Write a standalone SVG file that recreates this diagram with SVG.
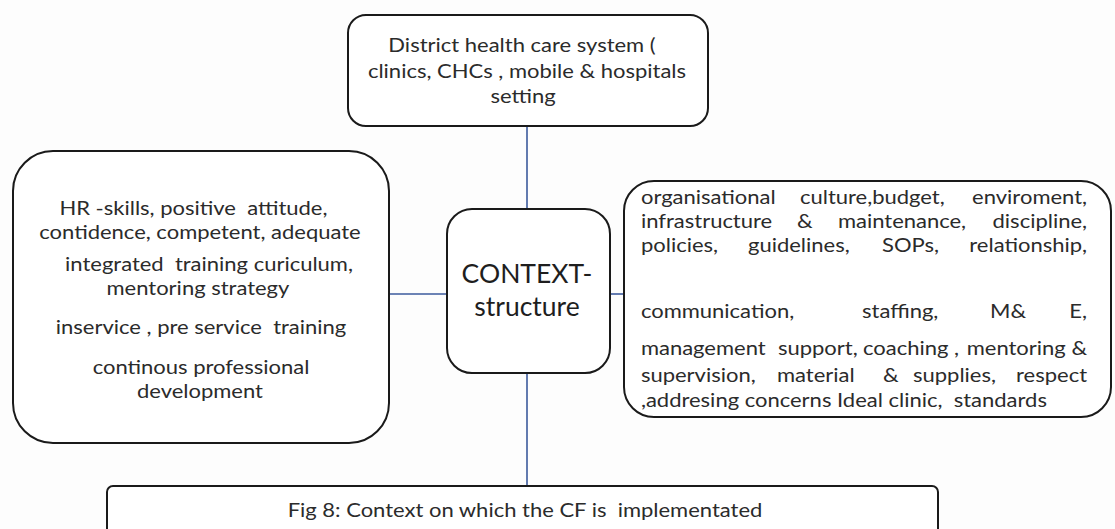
<svg xmlns="http://www.w3.org/2000/svg" width="1115" height="529" viewBox="0 0 1115 529">
<style>
.box{fill:#fff;stroke:#1a1a1a;stroke-width:2}
.t{font-family:Lato,"Open Sans","Liberation Sans",sans-serif;font-size:19.5px;fill:#2b2b2b}
.c{text-anchor:middle}
.big{font-family:Lato,"Open Sans","Liberation Sans",sans-serif;font-size:26.5px;fill:#1e1e1e;text-anchor:middle}
.conn{stroke:#3b5a9c;stroke-width:1.6;fill:none}
</style>
<rect width="1115" height="529" fill="#fdfdfd"/>
<g id="connectors">
<line class="conn" x1="527" y1="126" x2="527" y2="209"/>
<line class="conn" x1="389" y1="294" x2="447" y2="294"/>
<line class="conn" x1="610" y1="294" x2="624" y2="294"/>
<line class="conn" x1="527" y1="373" x2="527" y2="486"/>
</g>
<g id="node-district">
<rect class="box" x="348" y="15" width="360" height="111" rx="18"/>
<g transform="scale(1.128 1)">
<text class="t c" x="462.8" y="52">District health care system (</text>
<text class="t c" x="467.2" y="78">clinics, CHCs , mobile &amp; hospitals</text>
<text class="t c" x="463.7" y="103">setting</text>
</g>
</g>
<g id="node-hr">
<rect class="box" x="13" y="151" width="376" height="292" rx="40"/>
<g transform="scale(1.128 1)">
<text class="t c" x="171.5" y="215">HR -skills, positive&#160; attitude,</text>
<text class="t c" x="177.3" y="239">contidence, competent, adequate</text>
<text class="t c" x="185.3" y="271">integrated&#160; training curiculum,</text>
<text class="t c" x="175.5" y="295">mentoring strategy</text>
<text class="t c" x="178.2" y="334">inservice , pre service&#160; training</text>
<text class="t c" x="178.2" y="374">continous professional</text>
<text class="t c" x="177.3" y="398">development</text>
</g>
</g>
<g id="node-context">
<rect class="box" x="447" y="209" width="163" height="164" rx="25"/>
<text class="big" x="527" y="283">CONTEXT-</text>
<text class="big" x="527" y="316">structure</text>
</g>
<g id="node-org">
<rect class="box" x="624" y="181" width="487" height="236" rx="30"/>
<g transform="scale(1.128 1)">
<text class="t"><tspan x="568.2" y="204">organisational</tspan><tspan x="709.2" y="204">culture,budget,</tspan><tspan x="963.7" y="204" text-anchor="end">enviroment,</tspan></text>
<text class="t"><tspan x="568.2" y="228">infrastructure</tspan><tspan x="706.6" y="228">&amp;</tspan><tspan x="742.9" y="228">maintenance,</tspan><tspan x="963.7" y="228" text-anchor="end">discipline,</tspan></text>
<text class="t"><tspan x="568.2" y="252">policies,</tspan><tspan x="663.1" y="252">guidelines,</tspan><tspan x="781.9" y="252">SOPs,</tspan><tspan x="963.7" y="252" text-anchor="end">relationship,</tspan></text>
<text class="t"><tspan x="568.2" y="318">communication,</tspan><tspan x="764.2" y="318">staffing,</tspan><tspan x="877.7" y="318">M&amp;</tspan><tspan x="963.7" y="318" text-anchor="end">E,</tspan></text>
<text class="t"><tspan x="568.2" y="355">management</tspan><tspan x="689.7" y="355">support,</tspan><tspan x="765.1" y="355">coaching ,</tspan><tspan x="963.7" y="355" text-anchor="end">mentoring &amp;</tspan></text>
<text class="t"><tspan x="568.2" y="382">supervision,</tspan><tspan x="688.8" y="382">material</tspan><tspan x="782.8" y="382">&amp;</tspan><tspan x="809.4" y="382">supplies,</tspan><tspan x="963.7" y="382" text-anchor="end">respect</tspan></text>
<text class="t" x="568.2" y="407">,addresing concerns Ideal clinic,&#160; standards</text>
</g>
</g>
<g id="node-caption">
<rect class="box" x="107" y="486" width="831" height="60" rx="6"/>
<g transform="scale(1.128 1)">
<text class="t c" x="465.4" y="517">Fig 8: Context on which the CF is&#160; implementated</text>
</g>
</g>
</svg>
